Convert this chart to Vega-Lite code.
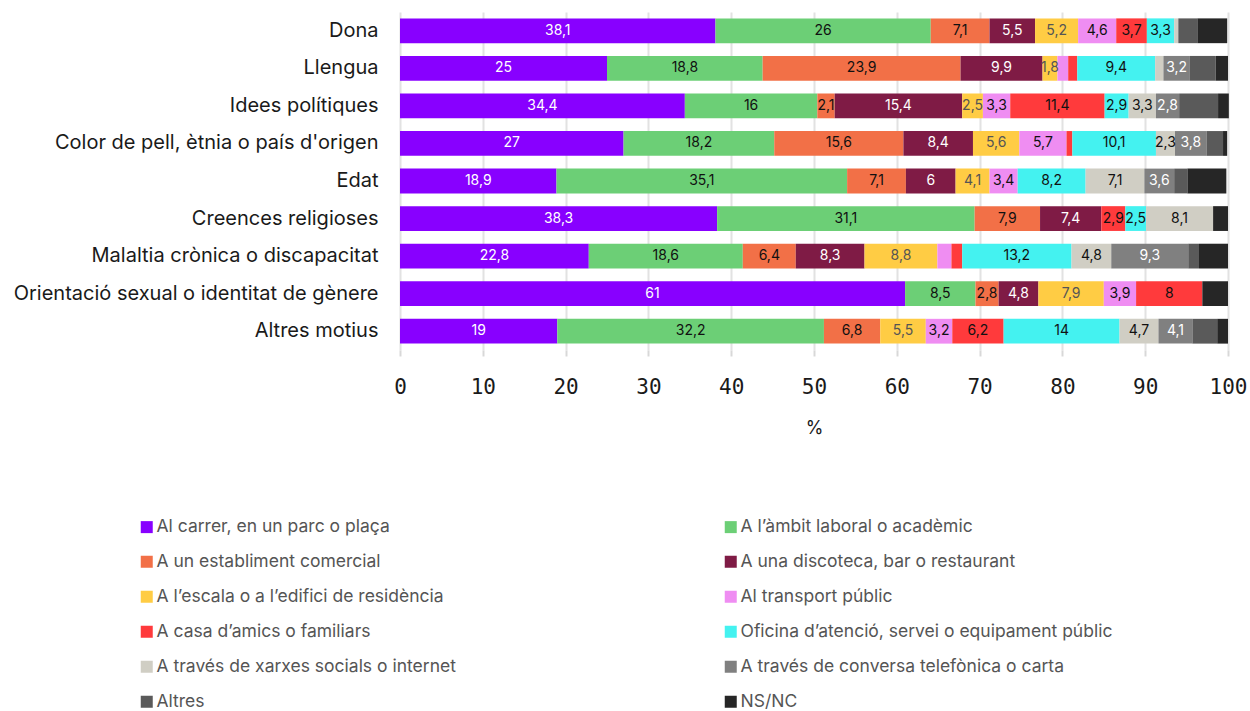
{
  "$schema": "https://vega.github.io/schema/vega-lite/v6.json",
  "autosize": {"type": "none"},
  "padding": {"left": 400, "top": 12, "right": 22, "bottom": 361},
  "width": 828,
  "height": 338,
  "background": "white",
  "config": {
    "font": "Inter",
    "view": {"stroke": null},
    "locale": {"number": {"decimal": ",", "thousands": ".", "grouping": [3], "currency": ["", " €"]}}
  },
  "data": {
    "values": [
      {"motiu": "Dona", "Al carrer, en un parc o plaça": 38.1, "A l’àmbit laboral o acadèmic": 26.0, "A un establiment comercial": 7.1, "A una discoteca, bar o restaurant": 5.5, "A l’escala o a l’edifici de residència": 5.2, "Al transport públic": 4.6, "A casa d’amics o familiars": 3.7, "Oficina d’atenció, servei o equipament públic": 3.3, "A través de xarxes socials o internet": 0.5, "A través de conversa telefònica o carta": 0, "Altres": 2.3, "NS/NC": 3.6},
      {"motiu": "Llengua", "Al carrer, en un parc o plaça": 25, "A l’àmbit laboral o acadèmic": 18.8, "A un establiment comercial": 23.9, "A una discoteca, bar o restaurant": 9.9, "A l’escala o a l’edifici de residència": 1.8, "Al transport públic": 1.3, "A casa d’amics o familiars": 1.1, "Oficina d’atenció, servei o equipament públic": 9.4, "A través de xarxes socials o internet": 1.0, "A través de conversa telefònica o carta": 3.2, "Altres": 3.1, "NS/NC": 1.5},
      {"motiu": "Idees polítiques", "Al carrer, en un parc o plaça": 34.4, "A l’àmbit laboral o acadèmic": 16.0, "A un establiment comercial": 2.1, "A una discoteca, bar o restaurant": 15.4, "A l’escala o a l’edifici de residència": 2.5, "Al transport públic": 3.3, "A casa d’amics o familiars": 11.4, "Oficina d’atenció, servei o equipament públic": 2.9, "A través de xarxes socials o internet": 3.3, "A través de conversa telefònica o carta": 2.8, "Altres": 4.7, "NS/NC": 1.3},
      {"motiu": "Color de pell, ètnia o país d'origen", "Al carrer, en un parc o plaça": 27, "A l’àmbit laboral o acadèmic": 18.2, "A un establiment comercial": 15.6, "A una discoteca, bar o restaurant": 8.4, "A l’escala o a l’edifici de residència": 5.6, "Al transport públic": 5.7, "A casa d’amics o familiars": 0.7, "Oficina d’atenció, servei o equipament públic": 10.1, "A través de xarxes socials o internet": 2.3, "A través de conversa telefònica o carta": 3.8, "Altres": 2.0, "NS/NC": 0.5},
      {"motiu": "Edat", "Al carrer, en un parc o plaça": 18.9, "A l’àmbit laboral o acadèmic": 35.1, "A un establiment comercial": 7.1, "A una discoteca, bar o restaurant": 6, "A l’escala o a l’edifici de residència": 4.1, "Al transport públic": 3.4, "A casa d’amics o familiars": 0, "Oficina d’atenció, servei o equipament públic": 8.2, "A través de xarxes socials o internet": 7.1, "A través de conversa telefònica o carta": 3.6, "Altres": 1.6, "NS/NC": 4.7},
      {"motiu": "Creences religioses", "Al carrer, en un parc o plaça": 38.3, "A l’àmbit laboral o acadèmic": 31.1, "A un establiment comercial": 7.9, "A una discoteca, bar o restaurant": 7.4, "A l’escala o a l’edifici de residència": 0, "Al transport públic": 0, "A casa d’amics o familiars": 2.9, "Oficina d’atenció, servei o equipament públic": 2.5, "A través de xarxes socials o internet": 8.1, "A través de conversa telefònica o carta": 0, "Altres": 0, "NS/NC": 1.8},
      {"motiu": "Malaltia crònica o discapacitat", "Al carrer, en un parc o plaça": 22.8, "A l’àmbit laboral o acadèmic": 18.6, "A un establiment comercial": 6.4, "A una discoteca, bar o restaurant": 8.3, "A l’escala o a l’edifici de residència": 8.8, "Al transport públic": 1.7, "A casa d’amics o familiars": 1.3, "Oficina d’atenció, servei o equipament públic": 13.2, "A través de xarxes socials o internet": 4.8, "A través de conversa telefònica o carta": 9.3, "Altres": 1.3, "NS/NC": 3.5},
      {"motiu": "Orientació sexual o identitat de gènere", "Al carrer, en un parc o plaça": 61, "A l’àmbit laboral o acadèmic": 8.5, "A un establiment comercial": 2.8, "A una discoteca, bar o restaurant": 4.8, "A l’escala o a l’edifici de residència": 7.9, "Al transport públic": 3.9, "A casa d’amics o familiars": 8, "Oficina d’atenció, servei o equipament públic": 0, "A través de xarxes socials o internet": 0, "A través de conversa telefònica o carta": 0, "Altres": 0, "NS/NC": 3.1},
      {"motiu": "Altres motius", "Al carrer, en un parc o plaça": 19, "A l’àmbit laboral o acadèmic": 32.2, "A un establiment comercial": 6.8, "A una discoteca, bar o restaurant": 0, "A l’escala o a l’edifici de residència": 5.5, "Al transport públic": 3.2, "A casa d’amics o familiars": 6.2, "Oficina d’atenció, servei o equipament públic": 14, "A través de xarxes socials o internet": 4.7, "A través de conversa telefònica o carta": 4.1, "Altres": 3.0, "NS/NC": 1.3}
    ]
  },
  "transform": [
    {"fold": ["Al carrer, en un parc o plaça", "A l’àmbit laboral o acadèmic", "A un establiment comercial", "A una discoteca, bar o restaurant", "A l’escala o a l’edifici de residència", "Al transport públic", "A casa d’amics o familiars", "Oficina d’atenció, servei o equipament públic", "A través de xarxes socials o internet", "A través de conversa telefònica o carta", "Altres", "NS/NC"], "as": ["lloc", "v"]},
    {"calculate": "indexof(['Al carrer, en un parc o plaça', 'A l’àmbit laboral o acadèmic', 'A un establiment comercial', 'A una discoteca, bar o restaurant', 'A l’escala o a l’edifici de residència', 'Al transport públic', 'A casa d’amics o familiars', 'Oficina d’atenció, servei o equipament públic', 'A través de xarxes socials o internet', 'A través de conversa telefònica o carta', 'Altres', 'NS/NC'], datum.lloc)", "as": "ord"},
    {"stack": "v", "groupby": ["motiu"], "sort": [{"field": "ord", "order": "ascending"}], "as": ["x0", "x1"], "offset": "zero"},
    {"calculate": "(datum.x0 + datum.x1) / 2", "as": "xm"}
  ],
  "encoding": {
    "y": {
      "field": "motiu", "type": "nominal", "sort": null,
      "scale": {"paddingInner": 0.34, "paddingOuter": 0.17},
      "axis": {"title": null, "domain": false, "ticks": false, "grid": false, "labelFontSize": 20, "labelColor": "#1a1a1a", "labelPadding": 22, "labelLimit": 400, "labelFont": "Inter"}
    }
  },
  "layer": [
    {
      "mark": {"type": "bar", "stroke": null},
      "encoding": {
        "x": {
          "field": "x0", "type": "quantitative",
          "scale": {"domain": [0, 100], "nice": false},
          "axis": {"title": "%", "titleFontSize": 18, "titleFontWeight": "normal", "titleColor": "#1a1a1a", "titlePadding": 22, "values": [0, 10, 20, 30, 40, 50, 60, 70, 80, 90, 100], "format": "d", "labelFontSize": 21, "labelColor": "#1a1a1a", "labelFont": "DejaVu Sans Mono", "labelPadding": 20, "labelFlush": false, "labelOverlap": false, "domain": false, "ticks": true, "tickColor": "#d8d8d8", "tickSize": 6, "tickWidth": 2, "grid": true, "gridColor": "#e2e2e2", "gridWidth": 2}
        },
        "x2": {"field": "x1"},
        "color": {
          "field": "lloc", "type": "nominal",
          "scale": {
            "domain": ["Al carrer, en un parc o plaça", "A l’àmbit laboral o acadèmic", "A un establiment comercial", "A una discoteca, bar o restaurant", "A l’escala o a l’edifici de residència", "Al transport públic", "A casa d’amics o familiars", "Oficina d’atenció, servei o equipament públic", "A través de xarxes socials o internet", "A través de conversa telefònica o carta", "Altres", "NS/NC"],
            "range": ["#8800ff", "#6ccf76", "#f27047", "#7f1b45", "#ffcc44", "#ef8df2", "#ff3a3c", "#44f2f0", "#d0cec4", "#808080", "#5a5a5a", "#262626"]
          },
          "legend": {
            "title": null, "orient": "none", "legendX": -262, "legendY": 506, "columns": 2, "direction": "horizontal",
            "symbolType": "square", "symbolSize": 144, "symbolStrokeWidth": 0, "symbolOpacity": 1,
            "labelFontSize": 17.5, "labelColor": "#555555", "labelFont": "Inter", "labelLimit": 500, "labelOffset": 1,
            "rowPadding": 16, "columnPadding": 193, "gridAlign": "all"
          }
        }
      }
    },
    {
      "transform": [{"filter": "datum.v >= 1.8 && datum.lloc != 'Altres' && datum.lloc != 'NS/NC'"}],
      "mark": {"type": "text", "fontSize": 14, "font": "Inter"},
      "encoding": {
        "x": {"field": "xm", "type": "quantitative"},
        "text": {"field": "v", "type": "quantitative", "format": "~g"},
        "color": {
          "field": "lloc", "type": "nominal",
          "scale": {
            "domain": ["Al carrer, en un parc o plaça", "A l’àmbit laboral o acadèmic", "A un establiment comercial", "A una discoteca, bar o restaurant", "A l’escala o a l’edifici de residència", "Al transport públic", "A casa d’amics o familiars", "Oficina d’atenció, servei o equipament públic", "A través de xarxes socials o internet", "A través de conversa telefònica o carta", "Altres", "NS/NC"],
            "range": ["#ffffff", "#111111", "#111111", "#ffffff", "#555555", "#111111", "#111111", "#111111", "#111111", "#ffffff", "#ffffff", "#ffffff"]
          },
          "legend": null
        }
      }
    }
  ],
  "resolve": {"scale": {"color": "independent"}}
}
